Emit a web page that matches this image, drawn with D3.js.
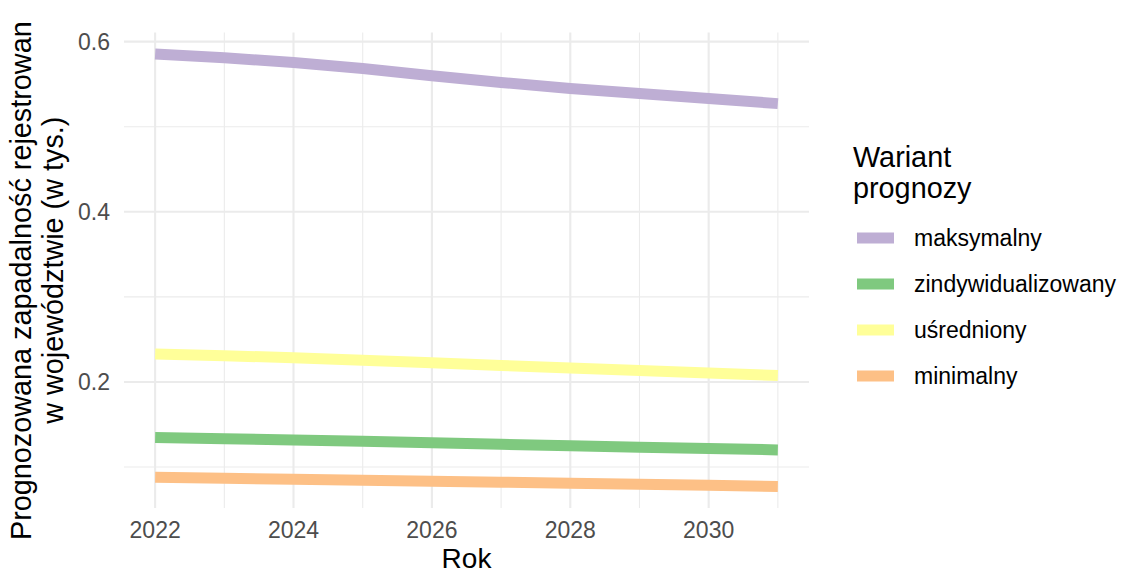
<!DOCTYPE html>
<html>
<head>
<meta charset="utf-8">
<script src="https://cdn.jsdelivr.net/npm/d3@7"></script>
<style>
  body { margin: 0; background: #fff; }
  svg { display: block; }
  text { font-family: Arial, "Liberation Sans", sans-serif; }
</style>
</head>
<body>
<svg id="chart"></svg>
<script>
// dane
var years = [2022, 2023, 2024, 2025, 2026, 2027, 2028, 2029, 2030, 2031];
var variants = ["maksymalny", "zindywidualizowany", "uśredniony", "minimalny"];
var maksymalny = [0.5853, 0.5810, 0.5755, 0.5685, 0.5599, 0.5520, 0.5449, 0.5391, 0.5332, 0.5271];
var zindywidualizowany = [0.1347, 0.1333, 0.1318, 0.1302, 0.1285, 0.1268, 0.1250, 0.1234, 0.1218, 0.1202];
var usredniony = [0.2330, 0.2308, 0.2285, 0.2255, 0.2225, 0.2195, 0.2165, 0.2135, 0.2105, 0.2075];
var minimalny = [0.0879, 0.0868, 0.0857, 0.0846, 0.0834, 0.0822, 0.0810, 0.0797, 0.0785, 0.0773];
var xTicks = [2022, 2024, 2026, 2028, 2030];
var yTicks = [0.2, 0.4, 0.6];

var seriesValues = [maksymalny, zindywidualizowany, usredniony, minimalny];
var colors = ["#BEAED4", "#7FC97F", "#FFFF99", "#FDC086"];

var width = 1123, height = 574;
var panel = { left: 124, right: 809, top: 32.5, bottom: 508 };

var svg = d3.select('#chart')
    .attr('width', width)
    .attr('height', height);

// ggplot-like 5% expansion
var xExt = d3.extent(years);
var xPad = (xExt[1] - xExt[0]) * 0.05;
var allVals = d3.merge(seriesValues);
var yExt = d3.extent(allVals);
var yPad = (yExt[1] - yExt[0]) * 0.05;

var x = d3.scaleLinear()
    .domain([xExt[0] - xPad, xExt[1] + xPad])
    .range([panel.left, panel.right]);

var y = d3.scaleLinear()
    .domain([yExt[0] - yPad, yExt[1] + yPad])
    .range([panel.bottom, panel.top]);

var grid = svg.append('g');

// minor grid
var xMinor = years.filter(function (d) { return xTicks.indexOf(d) < 0; });
var yMinor = [0.1, 0.3, 0.5];

grid.selectAll('.vminor')
    .data(xMinor)
    .enter().append('line')
    .attr('x1', function (d) { return x(d); })
    .attr('x2', function (d) { return x(d); })
    .attr('y1', panel.top).attr('y2', panel.bottom)
    .attr('stroke', '#EBEBEB').attr('stroke-width', 1.1);

grid.selectAll('.hminor')
    .data(yMinor)
    .enter().append('line')
    .attr('x1', panel.left).attr('x2', panel.right)
    .attr('y1', function (d) { return y(d); })
    .attr('y2', function (d) { return y(d); })
    .attr('stroke', '#EBEBEB').attr('stroke-width', 1.1);

// major grid
grid.selectAll('.vmajor')
    .data(xTicks)
    .enter().append('line')
    .attr('x1', function (d) { return x(d); })
    .attr('x2', function (d) { return x(d); })
    .attr('y1', panel.top).attr('y2', panel.bottom)
    .attr('stroke', '#EBEBEB').attr('stroke-width', 2.1);

grid.selectAll('.hmajor')
    .data(yTicks)
    .enter().append('line')
    .attr('x1', panel.left).attr('x2', panel.right)
    .attr('y1', function (d) { return y(d); })
    .attr('y2', function (d) { return y(d); })
    .attr('stroke', '#EBEBEB').attr('stroke-width', 2.1);

// tick labels
svg.append('g').selectAll('text')
    .data(xTicks)
    .enter().append('text')
    .attr('x', function (d) { return x(d); })
    .attr('y', 538)
    .attr('text-anchor', 'middle')
    .style('font-size', '23px')
    .style('fill', '#4D4D4D')
    .text(function (d) { return d; });

svg.append('g').selectAll('text')
    .data(yTicks)
    .enter().append('text')
    .attr('x', 110)
    .attr('y', function (d) { return y(d); })
    .attr('dy', '0.35em')
    .attr('text-anchor', 'end')
    .style('font-size', '23px')
    .style('fill', '#4D4D4D')
    .text(function (d) { return d3.format('.1f')(d); });

// lines
var line = d3.line()
    .x(function (d, i) { return x(years[i]); })
    .y(function (d) { return y(d); });

svg.append('g').selectAll('path')
    .data(seriesValues)
    .enter().append('path')
    .attr('d', line)
    .attr('fill', 'none')
    .attr('stroke', function (d, i) { return colors[i]; })
    .attr('stroke-width', 11)
    .attr('stroke-linecap', 'butt')
    .attr('stroke-linejoin', 'round');

// axis titles
svg.append('text')
    .attr('x', (panel.left + panel.right) / 2)
    .attr('y', 568)
    .attr('text-anchor', 'middle')
    .style('font-size', '28px')
    .style('fill', '#000')
    .text('Rok');

svg.append('text')
    .attr('transform', 'translate(30.6,540) rotate(-90)')
    .attr('text-anchor', 'start')
    .style('font-size', '28.8px')
    .style('fill', '#000')
    .text('Prognozowana zapadalność rejestrowan');

svg.append('text')
    .attr('transform', 'translate(62.6,' + ((panel.top + panel.bottom) / 2) + ') rotate(-90)')
    .attr('text-anchor', 'middle')
    .style('font-size', '28.8px')
    .style('fill', '#000')
    .text('w województwie (w tys.)');

// legend
var legend = svg.append('g');

legend.append('text')
    .attr('x', 853).attr('y', 167)
    .style('font-size', '28.8px')
    .text('Wariant');
legend.append('text')
    .attr('x', 853).attr('y', 198)
    .style('font-size', '28.8px')
    .text('prognozy');

var item = legend.selectAll('.item')
    .data(variants)
    .enter().append('g')
    .attr('transform', function (d, i) { return 'translate(0,' + (238 + i * 46) + ')'; });

item.append('rect')
    .attr('x', 857).attr('y', -5.5)
    .attr('width', 37).attr('height', 11)
    .attr('fill', function (d, i) { return colors[i]; });

item.append('text')
    .attr('x', 914).attr('y', 0)
    .attr('dy', '0.35em')
    .style('font-size', '23px')
    .text(function (d) { return d; });
</script>
</body>
</html>
